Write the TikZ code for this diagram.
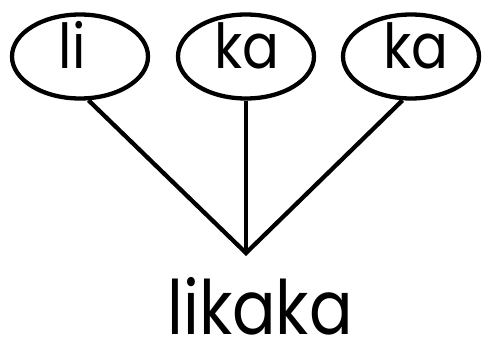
\documentclass[tikz,border=0pt]{standalone}
\usepackage{fontspec}
\setmainfont{Poppins}
\usetikzlibrary{shapes.geometric}
\begin{document}
\begin{tikzpicture}[x=1pt,y=-1pt,
  syl/.style={draw=black, line width=4.3pt, ellipse, minimum width=136pt, minimum height=84pt, inner sep=0pt},
  sylt/.style={anchor=base, inner sep=0pt, xscale=0.88, font=\fontsize{62}{64}\selectfont},
  conn/.style={draw=black, line width=4.3pt}]
\useasboundingbox (0,0) rectangle (487,345);
\node[syl] (e1) at (80,56.5) {};
\node[syl] (e2) at (246,56.5) {};
\node[syl] (e3) at (411,56.5) {};
\node[sylt] (t1) at (72,69) {li};
\node[sylt] (t2) at (247,69) {ka};
\node[sylt] (t3) at (416,69) {ka};
\coordinate (apex) at (246,253);
\draw[conn, line join=miter] (e1.-79) -- (apex) -- (e3.-101);
\draw[conn] (e2.south) -- (apex);
\node[anchor=base, inner sep=0pt, xscale=0.86, font=\fontsize{75}{77}\selectfont] (word) at (260,334) {likaka};
\end{tikzpicture}
\end{document}
